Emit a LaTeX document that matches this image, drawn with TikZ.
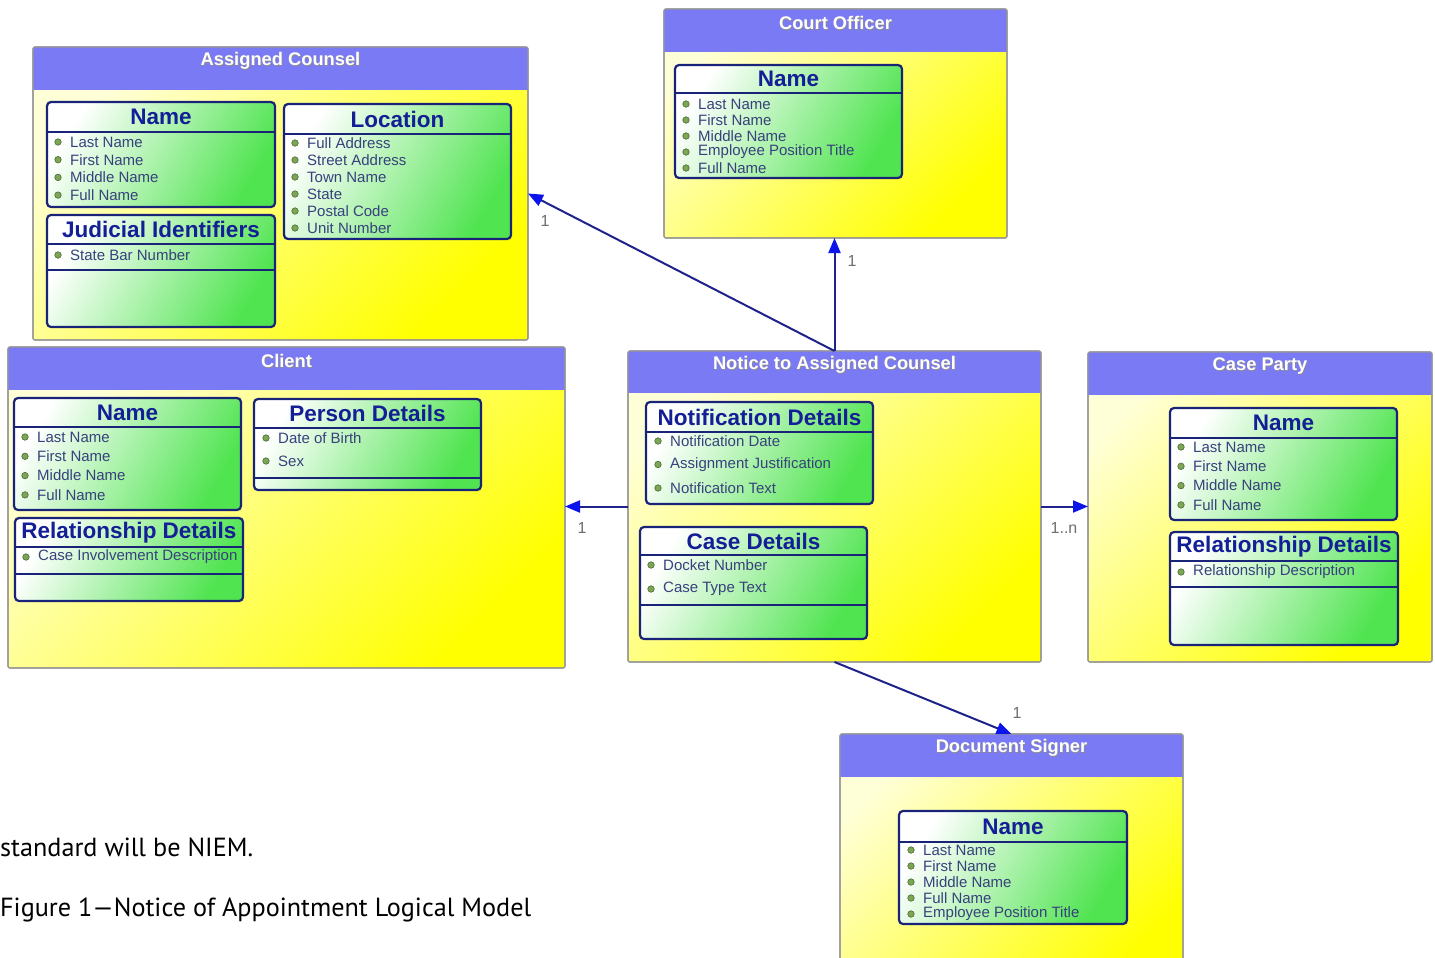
\documentclass[tikz,border=0pt]{standalone}
\usepackage{fontspec}
\setmainfont{Liberation Sans}
\newfontfamily\capfont{PT Sans}
\usetikzlibrary{arrows.meta,calc}

\definecolor{headblue}{RGB}{122,122,245}
\definecolor{entborder}{RGB}{150,150,150}
\definecolor{ylw}{RGB}{255,255,0}
\definecolor{ylwlight}{RGB}{255,255,215}
\definecolor{grn}{RGB}{80,228,80}
\definecolor{compborder}{RGB}{25,35,120}
\definecolor{titleblue}{RGB}{20,30,150}
\definecolor{itemcol}{RGB}{55,65,125}
\definecolor{bulletfill}{RGB}{125,165,85}
\definecolor{bulletline}{RGB}{70,110,50}
\definecolor{arrowcol}{RGB}{30,35,140}
\definecolor{arrowhead}{RGB}{10,20,235}
\definecolor{labcol}{RGB}{110,110,110}

\tikzset{
  entbox/.style={draw=entborder, line width=1.2pt, rounded corners=2pt,
    left color=ylwlight, right color=ylw, shading angle=45,
    anchor=north west, inner sep=0pt, outer sep=0pt},
  entframe/.style={draw=entborder, line width=1.2pt, rounded corners=2pt},
  headtext/.style={text=white, font=\fontsize{18.3}{20}\selectfont\bfseries, inner sep=0pt},
  headshadow/.style={text=black!45, font=\fontsize{18.3}{20}\selectfont\bfseries, inner sep=0pt},
  compbox/.style={draw=compborder, line width=2.2pt, rounded corners=4pt,
    left color=white, right color=grn, shading angle=60,
    anchor=north west, inner sep=0pt, outer sep=0pt},
  compsep/.style={draw=compborder, line width=1.4pt},
  comptitle/.style={text=titleblue, font=\fontsize{22.5}{24}\selectfont\bfseries, inner sep=0pt},
  itemtext/.style={text=itemcol, font=\fontsize{15}{16}\selectfont, anchor=west, inner sep=0pt},
  bulletdot/.style={circle, fill=bulletfill, draw=bulletline, line width=0.6pt, minimum size=6.5pt, inner sep=0pt},
  conn/.style={draw=arrowcol, line width=2pt, -{Triangle[length=15pt, width=12pt, color=arrowhead]}},
  mult/.style={text=labcol, font=\fontsize{16}{18}\selectfont, inner sep=0pt},
  captext/.style={font=\capfont\fontsize{26.2}{28}\selectfont, anchor=base west, inner sep=0pt}
}

% entity: name, x, y, w, h, header height, title
\newcommand\ent[7]{%
  \node[entbox, minimum width=#4pt, minimum height=#5pt] (#1) at (#2,#3) {};
  \fill[headblue] (#2,#3) rectangle (#2+#4,#3+#6);
  \draw[entframe] (#1.north west) rectangle (#1.south east);
  \node[headshadow] (#1hs) at (#2+#4/2+0.8,#3+14.8) {#7};
  \node[headtext] (#1h) at (#2+#4/2,#3+14) {#7};
}
% compartment: name, x, y, w, h, title line offset, title
\newcommand\comp[7]{%
  \node[compbox, minimum width=#4pt, minimum height=#5pt] (#1) at (#2,#3) {};
  \draw[compsep] (#2,#3+#6) -- (#2+#4,#3+#6);
  \node[comptitle] (#1t) at (#2+#4/2,#3+#6/2) {#7};
}
% extra separator: x, y, w, offset
\newcommand\csep[4]{\draw[compsep] (#1,#2+#4) -- (#1+#3,#2+#4);}
% items: prefix, bullet x, first y, dy, list
\newcommand\items[5]{%
  \foreach \t [count=\i] in {#5} {
    \node[bulletdot] (#1b\i) at (#2, #3+#4*\i-#4) {};
    \node[itemtext] (#1i\i) at (#2+12, #3+#4*\i-#4) {\t};
  }%
}

\begin{document}
\begin{tikzpicture}[x=1pt, y=-1pt]
\useasboundingbox (0,0) rectangle (1435,958);
\clip (0,0) rectangle (1435,958);
\fill[white] (0,0) rectangle (1435,958);

% Assigned Counsel
\ent{ac}{33}{47}{495}{293}{43}{Assigned Counsel}
\comp{acname}{47}{102}{228}{105}{30}{Name}
\items{acn}{58}{142}{17.7}{Last Name, First Name, Middle Name, Full Name}
\comp{acjud}{47}{215}{228}{112}{29}{Judicial Identifiers}
\csep{47}{215}{228}{55}
\items{acj}{58}{255}{17}{State Bar Number}
\comp{acloc}{284}{104}{227}{135}{30}{Location}
\items{acl}{295}{143}{17}{Full Address, Street Address, Town Name, State, Postal Code, Unit Number}

% Court Officer
\ent{co}{664}{9}{343}{229}{43}{Court Officer}
\comp{coname}{675}{65}{227}{113}{28}{Name}
\items{con}{686}{104}{16}{Last Name, First Name, Middle Name, Employee Position Title, Full Name}

% Client
\ent{cl}{8}{347}{557}{321}{43}{Client}
\comp{clname}{14}{398}{227}{112}{29}{Name}
\items{cln}{25}{437}{19.3}{Last Name, First Name, Middle Name, Full Name}
\comp{clrel}{15}{518}{228}{83}{29}{Relationship Details}
\csep{15}{518}{228}{56}
\items{clr}{26}{557}{17}{Case Involvement Description}
\comp{clper}{254}{399}{227}{91}{29}{Person Details}
\csep{254}{399}{227}{79}
\items{clp}{266}{438}{23}{Date of Birth, Sex}

% Notice to Assigned Counsel
\ent{nt}{628}{351}{413}{311}{42}{Notice to Assigned Counsel}
\comp{ntnot}{646}{402}{227}{102}{30}{Notification Details}
\items{ntn}{658}{441}{23.5}{Notification Date, Assignment Justification, Notification Text}
\comp{ntcase}{640}{527}{227}{112}{28}{Case Details}
\csep{640}{527}{227}{78}
\items{ntc}{651}{565}{24}{Docket Number, Case Type Text}

% Case Party
\ent{cp}{1088}{352}{344}{310}{43}{Case Party}
\comp{cpname}{1170}{408}{227}{112}{30}{Name}
\items{cpn}{1181}{447}{19.3}{Last Name, First Name, Middle Name, Full Name}
\comp{cprel}{1170}{532}{228}{113}{29}{Relationship Details}
\csep{1170}{532}{228}{55}
\items{cpr}{1181}{572}{17}{Relationship Description}

% Document Signer
\ent{ds}{840}{734}{343}{260}{43}{Document Signer}
\comp{dsname}{899}{811}{228}{113}{31}{Name}
\items{dsn}{911}{850}{16}{Last Name, First Name, Middle Name, Full Name, Employee Position Title}

% connectors
\draw[conn] (nt.north) -- (ac.east);
\draw[conn] (nt.north) -- (nt.north |- co.south);
\draw[conn] (nt.west) -- (nt.west -| cl.east);
\draw[conn] (nt.east) -- (nt.east -| cp.west);
\draw[conn] (nt.south) -- (ds.north);

% multiplicities
\node[mult] (m1) at (545,221) {1};
\node[mult] (m2) at (852,261) {1};
\node[mult] (m3) at (582,528) {1};
\node[mult] (m4) at (1064,528) {1..n};
\node[mult] (m5) at (1017,713) {1};

% caption text
\node[captext] (cap1) at (0,856) {standard will be NIEM.};
\node[captext] (cap2) at (0,916) {Figure 1—Notice of Appointment Logical Model};
\end{tikzpicture}
\end{document}
